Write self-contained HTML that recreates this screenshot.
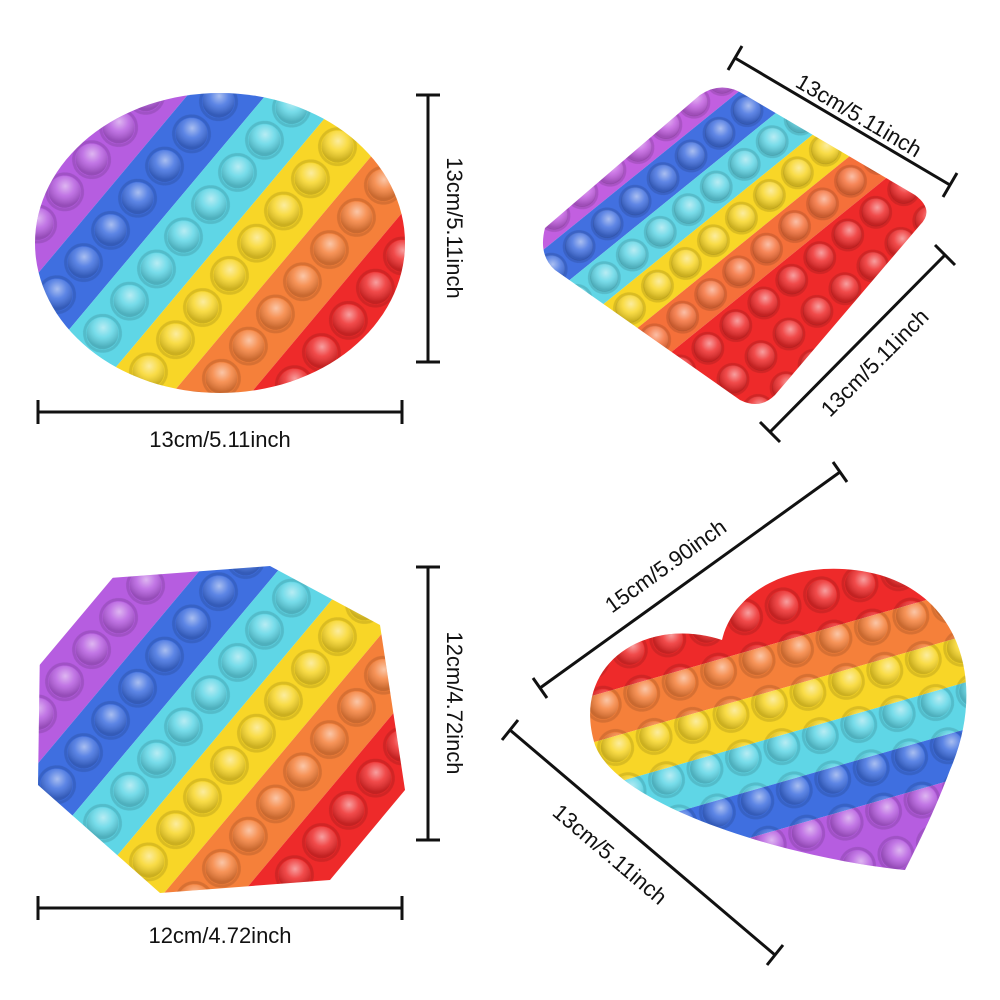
<!DOCTYPE html>
<html><head><style>html,body{margin:0;padding:0;background:#fff;width:1000px;height:1000px;overflow:hidden}svg{display:block}text{font-family:"Liberation Sans",sans-serif;font-size:22px;fill:#111}</style></head>
<body>
<svg width="1000" height="1000" viewBox="0 0 1000 1000" xmlns="http://www.w3.org/2000/svg">
<defs>
<radialGradient id="bub" cx="40%" cy="35%" r="60%">
<stop offset="0" stop-color="#fff" stop-opacity="0.55"/>
<stop offset="0.5" stop-color="#fff" stop-opacity="0.15"/>
<stop offset="1" stop-color="#000" stop-opacity="0.18"/>
</radialGradient>
<pattern id="p1" width="60" height="42" patternUnits="userSpaceOnUse" patternTransform="translate(220,240) rotate(40)">
<circle cx="30" cy="21" r="18" fill="none" stroke="#000" stroke-opacity="0.12" stroke-width="3"/>
<circle cx="30" cy="21" r="16" fill="url(#bub)"/></pattern>
<pattern id="p2" width="40" height="36" patternUnits="userSpaceOnUse" patternTransform="translate(740,245) rotate(51)">
<circle cx="20" cy="18" r="15" fill="none" stroke="#000" stroke-opacity="0.12" stroke-width="3"/>
<circle cx="20" cy="18" r="14" fill="url(#bub)"/></pattern>
<pattern id="p3" width="60" height="42" patternUnits="userSpaceOnUse" patternTransform="translate(220,730) rotate(40)">
<circle cx="30" cy="21" r="18" fill="none" stroke="#000" stroke-opacity="0.12" stroke-width="3"/>
<circle cx="30" cy="21" r="16" fill="url(#bub)"/></pattern>
<pattern id="p4" width="45" height="40" patternUnits="userSpaceOnUse" patternTransform="translate(795,720) rotate(74)">
<circle cx="22" cy="20" r="17" fill="none" stroke="#000" stroke-opacity="0.12" stroke-width="3"/>
<circle cx="22" cy="20" r="15" fill="url(#bub)"/></pattern>
<clipPath id="c1"><ellipse cx="220" cy="243" rx="185" ry="150"/></clipPath>
<clipPath id="c2"><path d="M545 228 L700 95 Q722 80 745 95 L915 195 Q935 210 920 225 L775 395 Q760 410 740 400 L555 270 Q538 255 545 228 Z"/></clipPath>
<clipPath id="c3"><path d="M40 645 L110 578 L270 566 L380 625 L405 790 L330 880 L160 893 L38 785 Z"/></clipPath>
<clipPath id="c4"><path d="M905 870 C800 860 620 810 595 745 C570 665 645 615 722 640 C735 585 805 555 880 575 C965 600 985 690 950 770 C935 810 920 840 905 870 Z"/></clipPath>
</defs>

<g clip-path="url(#c1)">
<g transform="rotate(40,220,240)">
<rect x="40" y="-200" width="62" height="900" fill="#b65de0"/>
<rect x="102" y="-200" width="60" height="900" fill="#3f6fe0"/>
<rect x="162" y="-200" width="60" height="900" fill="#5fd6e6"/>
<rect x="222" y="-200" width="60" height="900" fill="#f8d627"/>
<rect x="282" y="-200" width="60" height="900" fill="#f5803a"/>
<rect x="342" y="-200" width="120" height="900" fill="#ee2a2a"/>
</g>
<rect x="0" y="0" width="500" height="500" fill="url(#p1)"/>
</g>

<g clip-path="url(#c2)">
<g transform="rotate(51,740,245)">
<rect x="500" y="-100" width="120" height="700" fill="#c25fe0"/>
<rect x="620" y="-100" width="40" height="700" fill="#4270e0"/>
<rect x="660" y="-100" width="40" height="700" fill="#62d6e6"/>
<rect x="700" y="-100" width="40" height="700" fill="#f8d627"/>
<rect x="740" y="-100" width="40" height="700" fill="#f5703a"/>
<rect x="780" y="-100" width="160" height="700" fill="#ee2a2a"/>
</g>
<rect x="500" y="50" width="480" height="400" fill="url(#p2)"/>
</g>

<g clip-path="url(#c3)">
<g transform="rotate(40,220,730)">
<rect x="40" y="300" width="62" height="900" fill="#b65de0"/>
<rect x="102" y="300" width="60" height="900" fill="#3f6fe0"/>
<rect x="162" y="300" width="60" height="900" fill="#5fd6e6"/>
<rect x="222" y="300" width="60" height="900" fill="#f8d627"/>
<rect x="282" y="300" width="60" height="900" fill="#f5803a"/>
<rect x="342" y="300" width="120" height="900" fill="#ee2a2a"/>
</g>
<rect x="0" y="540" width="500" height="400" fill="url(#p3)"/>
</g>

<g clip-path="url(#c4)">
<g transform="rotate(74,780,720)">
<rect x="540" y="300" width="165" height="900" fill="#ee2a2a"/>
<rect x="705" y="300" width="45" height="900" fill="#f5803a"/>
<rect x="750" y="300" width="45" height="900" fill="#f8d627"/>
<rect x="795" y="300" width="45" height="900" fill="#5fd6e6"/>
<rect x="840" y="300" width="45" height="900" fill="#3f6fe0"/>
<rect x="885" y="300" width="150" height="900" fill="#b65de0"/>
</g>
<rect x="560" y="540" width="440" height="360" fill="url(#p4)"/>
</g>

<g stroke="#111" stroke-width="3" fill="none">
<line x1="38" y1="412" x2="402" y2="412"/><line x1="38" y1="400" x2="38" y2="424"/><line x1="402" y1="400" x2="402" y2="424"/>
<line x1="428" y1="95" x2="428" y2="362"/><line x1="416" y1="95" x2="440" y2="95"/><line x1="416" y1="362" x2="440" y2="362"/>
<line x1="735" y1="58" x2="950" y2="185"/><line x1="728" y1="70" x2="742" y2="46"/><line x1="943" y1="197" x2="957" y2="173"/>
<line x1="770" y1="432" x2="945" y2="255"/><line x1="760" y1="422" x2="780" y2="442"/><line x1="935" y1="245" x2="955" y2="265"/>
<line x1="38" y1="908" x2="402" y2="908"/><line x1="38" y1="896" x2="38" y2="920"/><line x1="402" y1="896" x2="402" y2="920"/>
<line x1="428" y1="567" x2="428" y2="840"/><line x1="416" y1="567" x2="440" y2="567"/><line x1="416" y1="840" x2="440" y2="840"/>
<line x1="540" y1="688" x2="840" y2="472"/><line x1="533" y1="678" x2="547" y2="698"/><line x1="833" y1="462" x2="847" y2="482"/>
<line x1="510" y1="730" x2="775" y2="955"/><line x1="502" y1="740" x2="518" y2="720"/><line x1="767" y1="965" x2="783" y2="945"/>
</g>
<text x="220" y="447" text-anchor="middle">13cm/5.11inch</text>
<text transform="translate(447,228) rotate(90)" text-anchor="middle">13cm/5.11inch</text>
<text transform="translate(855,122) rotate(30.6)" text-anchor="middle">13cm/5.11inch</text>
<text transform="translate(880,368) rotate(-45)" text-anchor="middle">13cm/5.11inch</text>
<text x="220" y="943" text-anchor="middle">12cm/4.72inch</text>
<text transform="translate(447,703) rotate(90)" text-anchor="middle">12cm/4.72inch</text>
<text transform="translate(670,572) rotate(-35.7)" text-anchor="middle">15cm/5.90inch</text>
<text transform="translate(605,860) rotate(40.3)" text-anchor="middle">13cm/5.11inch</text>
</svg>
</body></html>
